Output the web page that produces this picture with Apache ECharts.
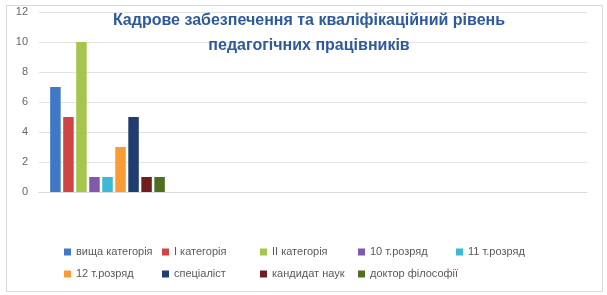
<!DOCTYPE html>
<html>
<head>
<meta charset="utf-8">
<script src="https://cdn.jsdelivr.net/npm/echarts@6/dist/echarts.min.js"></script>
<style>html,body{margin:0;padding:0;background:#fff;}#c{width:607px;height:295px;}</style>
</head>
<body>
<div id="c"></div>
<script>
const titleText = 'Кадрове забезпечення та кваліфікаційний рівень\nпедагогічних працівників';
const categories = ['', '', '', ''];
const seriesNames = ['вища категорія', 'I категорія', 'II категорія', '10 т.розряд', '11 т.розряд', '12 т.розряд', 'спеціаліст', 'кандидат наук', 'доктор філософії'];
const vyshchaKategoriya = [7];
const iKategoriya = [5];
const iiKategoriya = [10];
const rozryad10 = [1];
const rozryad11 = [1];
const rozryad12 = [3];
const spetsialist = [5];
const kandydatNauk = [1];
const doktorFilosofii = [1];
const seriesValues = [vyshchaKategoriya, iKategoriya, iiKategoriya, rozryad10, rozryad11, rozryad12, spetsialist, kandydatNauk, doktorFilosofii];
const yTicks = { min: 0, max: 12, interval: 2 };
const colors = ['#4078c8', '#cf4545', '#a5c64d', '#8259ab', '#3cb9d6', '#f99b37', '#1f3d6e', '#6f1e1e', '#4f6e22'];

const chart = echarts.init(document.getElementById('c'));
chart.setOption({
  animation: false,
  color: colors,
  textStyle: { fontFamily: 'Liberation Sans' },
  title: {
    text: titleText,
    left: 309,
    textAlign: 'center',
    top: 8,
    padding: 0,
    textStyle: { color: '#2e5a9c', fontSize: 16, fontWeight: 'bold', lineHeight: 25, fontFamily: 'Liberation Sans' }
  },
  graphic: [{
    type: 'rect', silent: true, z: -1,
    shape: { x: 6.5, y: 5.5, width: 596, height: 286 },
    style: { fill: 'none', stroke: '#d9d9d9', lineWidth: 1 }
  }],
  legend: {
    left: 64, top: 245, width: 490,
    icon: 'rect', itemWidth: 7, itemHeight: 7, itemGap: 8,
    padding: 0,
    itemStyle: { borderWidth: 0 },
    textStyle: { color: '#595959', fontSize: 11, width: 78, lineHeight: 14 },
    data: seriesNames
  },
  grid: { left: 39, right: 20, top: 12, bottom: 103, containLabel: false },
  xAxis: {
    type: 'category', data: categories,
    axisLine: { lineStyle: { color: '#d9d9d9', width: 1 } },
    axisTick: { show: false }, axisLabel: { show: false }
  },
  yAxis: {
    type: 'value', min: yTicks.min, max: yTicks.max, interval: yTicks.interval,
    axisLine: { show: false }, axisTick: { show: false },
    axisLabel: { color: '#666666', fontSize: 11, margin: 11 },
    splitLine: { lineStyle: { color: '#e3e3e3', width: 1 } }
  },
  series: seriesNames.map((n, i) => ({
    name: n, type: 'bar', data: seriesValues[i],
    barGap: '24%', barCategoryGap: '16.3%'
  }))
});
</script>
</body>
</html>
